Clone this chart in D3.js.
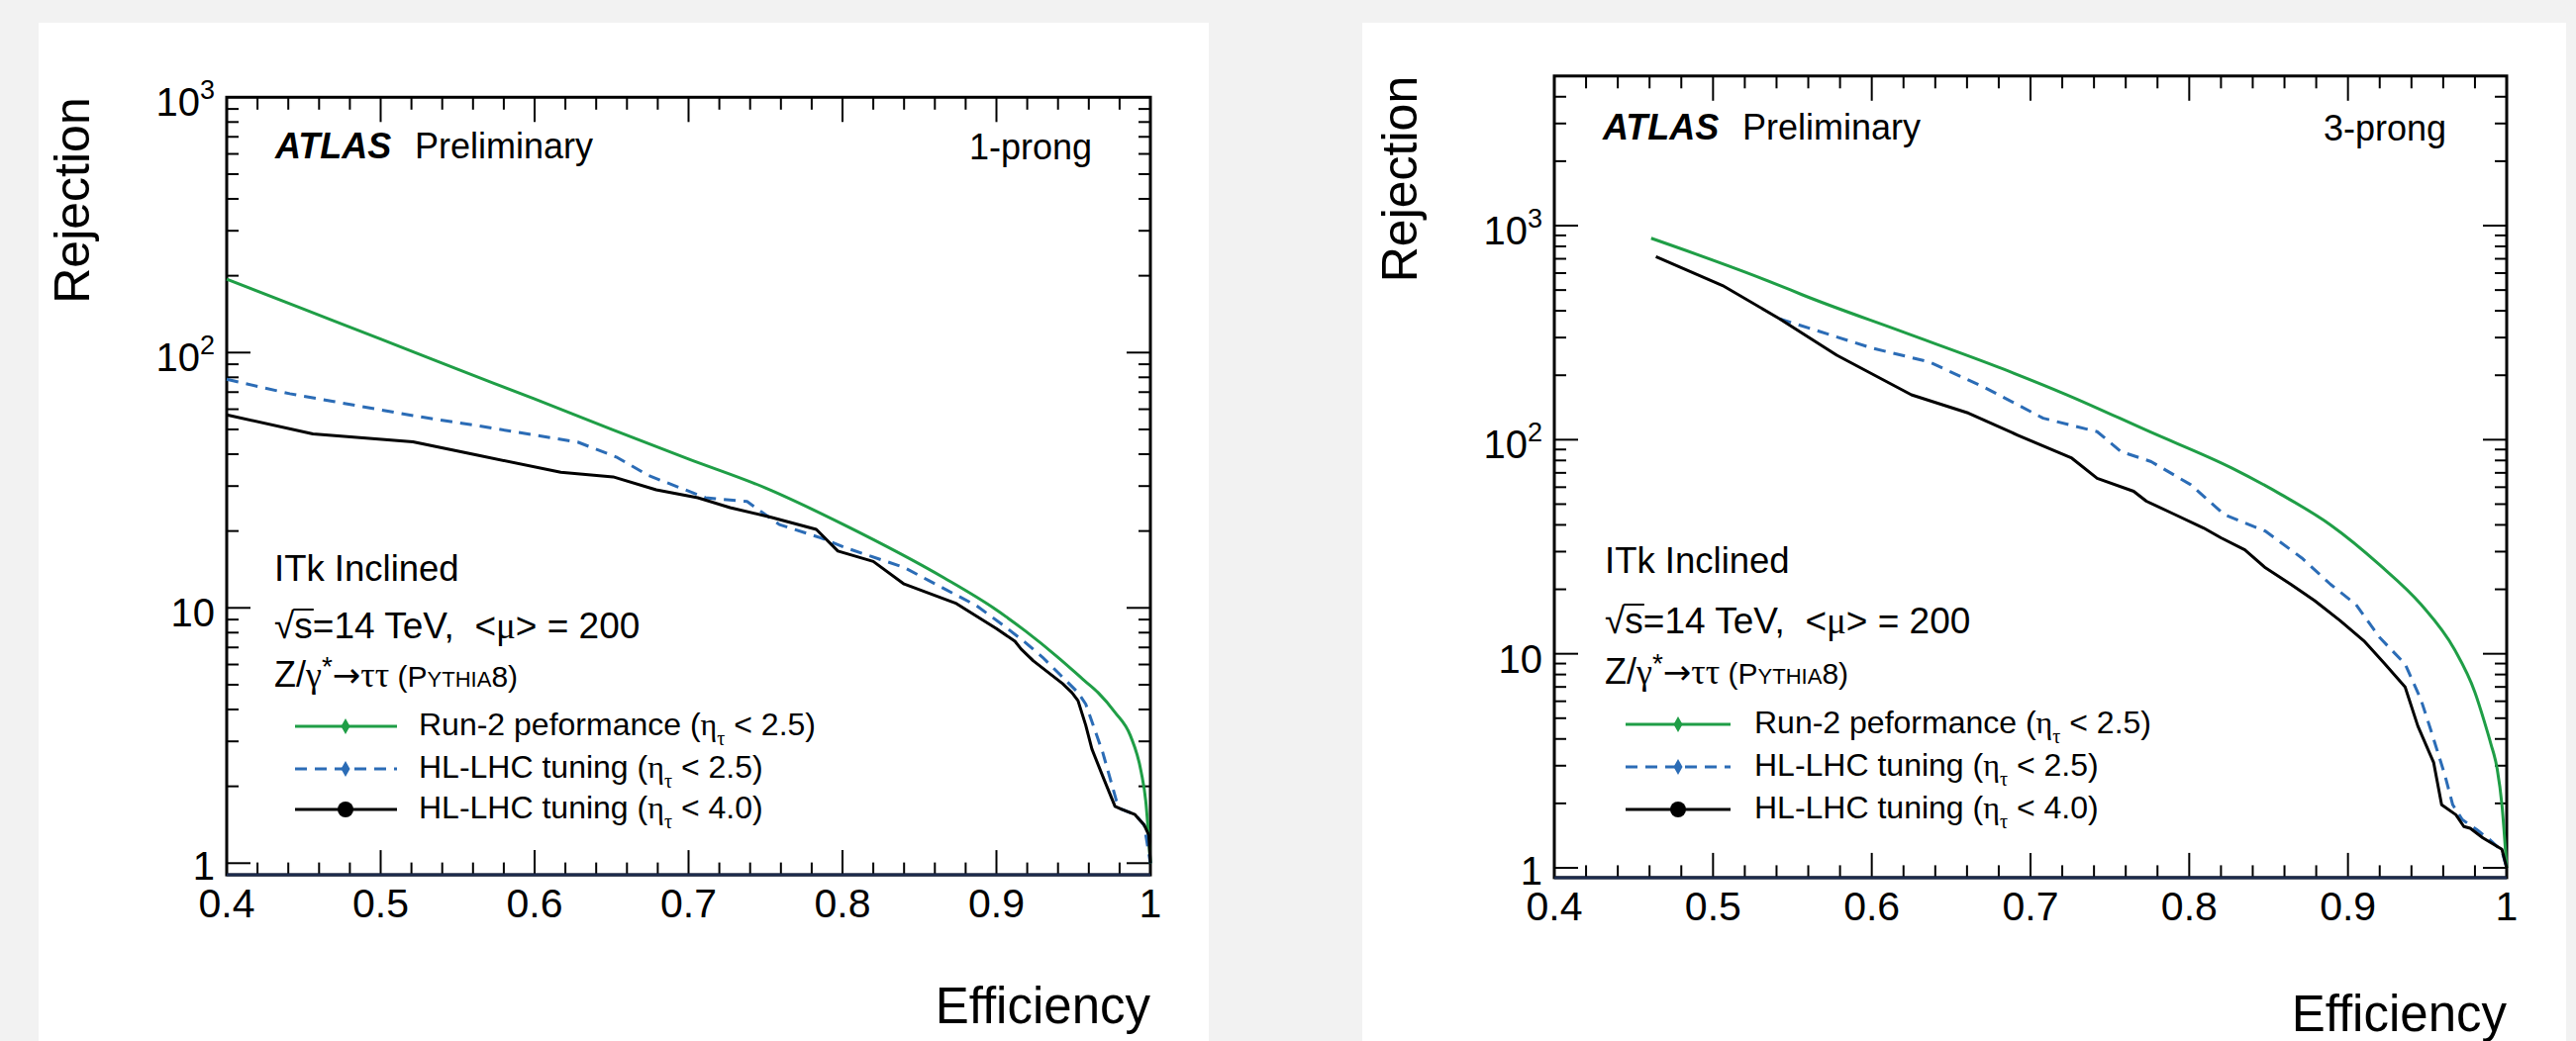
<!DOCTYPE html>
<html>
<head>
<meta charset="utf-8">
<script src="https://cdn.jsdelivr.net/npm/d3@7.9.0/dist/d3.min.js"></script>
<style>
  html, body { margin: 0; padding: 0; background: #f2f2f2; }
  svg { display: block; }
  text { font-family: "Liberation Sans", Arial, Helvetica, sans-serif; fill: #000; white-space: pre; }
  .gr { font-family: "Liberation Serif", "DejaVu Serif", serif; }
  .ar { font-family: "DejaVu Sans", sans-serif; }
</style>
</head>
<body>
<svg id="chart" width="2602" height="1052"></svg>
<script>
// ---- data ----
const xTickValues = [0.4, 0.5, 0.6, 0.7, 0.8, 0.9, 1.0];
const xTickLabels = ['0.4', '0.5', '0.6', '0.7', '0.8', '0.9', '1'];

const legendNames = ['Run-2 peformance', 'HL-LHC tuning', 'HL-LHC tuning'];
const legendEta = ['2.5', '2.5', '4.0'];

// 1-prong
const eff1pRun2 = [0.40, 0.45, 0.50, 0.55, 0.60, 0.65, 0.70, 0.75, 0.802, 0.866, 0.898, 0.919, 0.940, 0.957, 0.966, 0.977, 0.987, 0.994, 0.997, 1.000];
const rej1pRun2 = [194, 148, 113, 86, 65.8, 50, 38.3, 29.5, 21, 13.1, 10, 8.1, 6.4, 5.2, 4.66, 3.9, 3.16, 2.28, 1.75, 1.0];

const eff1pHL25 = [0.400, 0.441, 0.521, 0.563, 0.628, 0.653, 0.674, 0.711, 0.738, 0.759, 0.786, 0.802, 0.840, 0.856, 0.887, 0.905, 0.919, 0.930, 0.941, 0.953, 0.958, 0.969, 0.978, 0.981, 0.990, 0.996, 1.000];
const rej1pHL25 = [78.6, 69, 56.6, 51.7, 44.6, 39, 33, 27, 26.1, 21.2, 18.8, 17.2, 14.4, 12.8, 10.2, 8.5, 7.3, 6.4, 5.5, 4.66, 4.2, 2.72, 1.75, 1.63, 1.55, 1.41, 1.0];

const eff1pHL40 = [0.400, 0.456, 0.521, 0.563, 0.617, 0.651, 0.679, 0.706, 0.727, 0.753, 0.783, 0.797, 0.820, 0.840, 0.874, 0.900, 0.912, 0.916, 0.924, 0.943, 0.949, 0.953, 0.958, 0.962, 0.970, 0.977, 0.981, 0.990, 0.996, 0.999, 1.000];
const rej1pHL40 = [57, 48, 44.7, 39.6, 34, 32.6, 29, 27, 24.7, 22.7, 20.3, 16.7, 15.2, 12.4, 10.4, 8.3, 7.4, 6.9, 6.2, 5.05, 4.66, 4.33, 3.47, 2.8, 2.12, 1.67, 1.63, 1.55, 1.41, 1.29, 1.0];

// 3-prong
const eff3pRun2 = [0.461, 0.542, 0.556, 0.620, 0.682, 0.723, 0.775, 0.827, 0.858, 0.889, 0.920, 0.946, 0.967, 0.980, 0.986, 0.990, 0.994, 0.997, 1.000];
const rej3pRun2 = [873, 525, 476, 318, 215, 162, 109, 73.6, 55.4, 40, 26, 17, 10.5, 6.6, 4.8, 3.8, 2.9, 1.97, 1.0];

const eff3pHL25 = [0.542, 0.600, 0.636, 0.672, 0.708, 0.742, 0.757, 0.776, 0.801, 0.822, 0.848, 0.871, 0.889, 0.905, 0.920, 0.936, 0.946, 0.952, 0.961, 0.966, 0.972, 0.981, 0.989, 0.997, 1.000];
const rej3pHL25 = [367, 268, 231, 174, 126, 109, 88, 79, 61.6, 44.7, 37.4, 28, 21.1, 17, 11.9, 8.95, 6.1, 4.45, 2.72, 1.97, 1.68, 1.51, 1.36, 1.2, 1.0];

const eff3pHL40 = [0.464, 0.506, 0.542, 0.578, 0.625, 0.661, 0.692, 0.726, 0.742, 0.765, 0.773, 0.791, 0.809, 0.820, 0.835, 0.848, 0.864, 0.879, 0.895, 0.910, 0.923, 0.936, 0.944, 0.954, 0.959, 0.968, 0.973, 0.977, 0.985, 0.997, 1.000];
const rej3pHL40 = [716, 525, 367, 248, 162, 133, 105, 82, 66, 57.4, 51.6, 44.7, 38.7, 34.8, 30.6, 25.2, 21.1, 17.7, 14.3, 11.5, 9.0, 7.0, 4.6, 3.1, 1.97, 1.77, 1.56, 1.53, 1.38, 1.22, 1.0];

// ---- styles ----
const green = '#1f9e46';
const blue = '#2b6cb6';
const black = '#000000';

const svg = d3.select('#chart');

const panels = [
  {
    bg: [39, 23, 1182, 1029],
    x0: 229, x1: 1162, yDomain: [0.9, 1000], yTop: 98.3, yBot: 884.1,
    prong: '1-prong', atlasY: 160, prongX: 1103,
    infoX: 277, infoY: [587, 645, 694],
    legY: [734, 777, 818], legX: [298, 401, 349, 423],
    effLabelY: 1034,
    series: [
      { eff: eff1pRun2, rej: rej1pRun2, color: green, dash: null, marker: 'diamond', smooth: true },
      { eff: eff1pHL25, rej: rej1pHL25, color: blue, dash: '12,8', marker: 'diamond' },
      { eff: eff1pHL40, rej: rej1pHL40, color: black, dash: null, marker: 'circle' }
    ]
  },
  {
    bg: [1376, 23, 1216, 1029],
    x0: 1570, x1: 2532, yDomain: [0.9, 5000], yTop: 76.8, yBot: 886.9,
    prong: '3-prong', atlasY: 141, prongX: 2471,
    infoX: 1621, infoY: [579, 640, 691],
    legY: [732, 775, 818], legX: [1642, 1748, 1695, 1772],
    effLabelY: 1042,
    series: [
      { eff: eff3pRun2, rej: rej3pRun2, color: green, dash: null, marker: 'diamond', smooth: true },
      { eff: eff3pHL25, rej: rej3pHL25, color: blue, dash: '12,8', marker: 'diamond' },
      { eff: eff3pHL40, rej: rej3pHL40, color: black, dash: null, marker: 'circle' }
    ]
  }
];

panels.forEach(drawPanel);

function drawPanel(p) {
  const g = svg.append('g');
  g.append('rect')
    .attr('x', p.bg[0]).attr('y', p.bg[1])
    .attr('width', p.bg[2]).attr('height', p.bg[3])
    .attr('fill', '#ffffff');

  const x = d3.scaleLinear().domain([0.4, 1.0]).range([p.x0, p.x1]);
  const y = d3.scaleLog().domain(p.yDomain).range([p.yBot, p.yTop]);

  // ticks on all four sides
  const ticks = g.append('g').attr('stroke', '#000').attr('stroke-width', 2);
  const minorX = d3.range(0, 31).map(i => 0.4 + i * 0.02);
  minorX.forEach((v, i) => {
    const len = i % 5 === 0 ? 25 : 12.5;
    const px = x(v);
    ticks.append('line').attr('x1', px).attr('x2', px).attr('y1', p.yBot).attr('y2', p.yBot - len);
    ticks.append('line').attr('x1', px).attr('x2', px).attr('y1', p.yTop).attr('y2', p.yTop + len);
  });

  const yMinor = [];
  for (let e = -1; e <= 4; e++) {
    for (let m = 1; m <= 9; m++) {
      const v = m * Math.pow(10, e);
      if (v > p.yDomain[0] * 1.001 && v < p.yDomain[1] * 0.999) yMinor.push({ v, major: m === 1 });
    }
  }
  yMinor.forEach(t => {
    const len = t.major ? 24 : 12;
    const py = y(t.v);
    ticks.append('line').attr('x1', p.x0).attr('x2', p.x0 + len).attr('y1', py).attr('y2', py);
    ticks.append('line').attr('x1', p.x1).attr('x2', p.x1 - len).attr('y1', py).attr('y2', py);
  });

  // frame
  g.append('rect')
    .attr('x', p.x0).attr('y', p.yTop)
    .attr('width', p.x1 - p.x0).attr('height', p.yBot - p.yTop)
    .attr('fill', 'none').attr('stroke', '#000').attr('stroke-width', 3);
  g.append('line')
    .attr('x1', p.x0).attr('x2', p.x1).attr('y1', p.yBot).attr('y2', p.yBot)
    .attr('stroke', '#1c2b4c').attr('stroke-width', 3);

  // x tick labels
  xTickValues.forEach((v, i) => {
    g.append('text')
      .attr('x', x(v)).attr('y', p.yBot + 43)
      .attr('text-anchor', 'middle')
      .style('font-size', '41px')
      .text(xTickLabels[i]);
  });

  // y tick labels (decades)
  for (let e = 0; e <= 3; e++) {
    const v = Math.pow(10, e);
    if (v < p.yDomain[0] || v > p.yDomain[1]) continue;
    const t = g.append('text')
      .attr('x', p.x0 - 12).attr('y', y(v) + (e === 0 ? 17 : 19))
      .attr('text-anchor', 'end')
      .style('font-size', '40px');
    if (e < 2) {
      t.text(String(v));
    } else {
      t.append('tspan').text('10');
      t.append('tspan').attr('dy', -17).style('font-size', '27px').text(String(e));
    }
  }

  // axis titles
  g.append('text')
    .attr('x', p.x1).attr('y', p.effLabelY)
    .attr('text-anchor', 'end')
    .style('font-size', '51px')
    .text('Efficiency');
  g.append('text')
    .attr('transform', `translate(${p.x0 - 139},${p.yTop}) rotate(-90)`)
    .attr('text-anchor', 'end')
    .style('font-size', '50px')
    .text('Rejection');

  // curves
  p.series.forEach(s => {
    const pts = s.eff.map((e, i) => [e, s.rej[i]]);
    const line = d3.line()
      .x(d => x(d[0])).y(d => y(d[1]))
      .curve(s.smooth ? d3.curveMonotoneX : d3.curveLinear);
    g.append('path')
      .attr('d', line(pts))
      .attr('fill', 'none')
      .attr('stroke', s.color)
      .attr('stroke-width', 3)
      .attr('stroke-dasharray', s.dash)
      .attr('stroke-linejoin', 'round');
  });

  // ATLAS label
  const ax = p.x0 + 49;
  g.append('text')
    .attr('x', ax).attr('y', p.atlasY)
    .style('font-size', '36px').style('font-weight', 'bold').style('font-style', 'italic')
    .text('ATLAS');
  g.append('text')
    .attr('x', ax + 141).attr('y', p.atlasY)
    .style('font-size', '36px')
    .text('Preliminary');
  g.append('text')
    .attr('x', p.prongX).attr('y', p.atlasY + 1)
    .attr('text-anchor', 'end')
    .style('font-size', '36px')
    .text(p.prong);

  // info lines
  g.append('text')
    .attr('x', p.infoX).attr('y', p.infoY[0])
    .style('font-size', '36.5px')
    .text('ITk Inclined');

  const s2 = g.append('text')
    .attr('x', p.infoX).attr('y', p.infoY[1])
    .style('font-size', '37px');
  s2.append('tspan').text('√s=14 TeV,  <');
  s2.append('tspan').attr('class', 'gr').text('μ');
  s2.append('tspan').text('> = 200');
  const ext = s2.node().getExtentOfChar(1);
  g.append('line')
    .attr('x1', ext.x - 1).attr('x2', ext.x + ext.width + 1)
    .attr('y1', p.infoY[1] - 29).attr('y2', p.infoY[1] - 29)
    .attr('stroke', '#000').attr('stroke-width', 2);

  const s3 = g.append('text')
    .attr('x', p.infoX).attr('y', p.infoY[2])
    .style('font-size', '36px');
  s3.append('tspan').text('Z/');
  s3.append('tspan').attr('class', 'gr').text('γ');
  s3.append('tspan').attr('dy', -11).style('font-size', '28px').text('*');
  s3.append('tspan').attr('dy', 11).attr('class', 'ar').style('font-size', '34px').text('→');
  s3.append('tspan').attr('class', 'gr').text('ττ');
  s3.append('tspan').style('font-size', '30px').text(' (P');
  s3.append('tspan').style('font-size', '22px').text('YTHIA');
  s3.append('tspan').style('font-size', '30px').text('8)');

  // legend
  p.series.forEach((s, i) => {
    const ly = p.legY[i];
    g.append('line')
      .attr('x1', p.legX[0]).attr('x2', p.legX[1]).attr('y1', ly).attr('y2', ly)
      .attr('stroke', s.color).attr('stroke-width', 3)
      .attr('stroke-dasharray', s.dash);
    if (s.marker === 'circle') {
      g.append('circle').attr('cx', p.legX[2]).attr('cy', ly).attr('r', 8).attr('fill', s.color);
    } else {
      const mx = p.legX[2];
      g.append('path')
        .attr('d', `M${mx},${ly - 8}L${mx + 4.5},${ly}L${mx},${ly + 8}L${mx - 4.5},${ly}Z`)
        .attr('fill', s.color);
    }
    const t = g.append('text')
      .attr('x', p.legX[3]).attr('y', ly + 9)
      .style('font-size', '32px');
    t.append('tspan').text(legendNames[i] + ' (');
    t.append('tspan').attr('class', 'gr').text('η');
    t.append('tspan').attr('class', 'gr').attr('dy', 10).style('font-size', '20px').text('τ');
    t.append('tspan').attr('dy', -10).text(' < ' + legendEta[i] + ')');
  });
}
</script>
</body>
</html>
